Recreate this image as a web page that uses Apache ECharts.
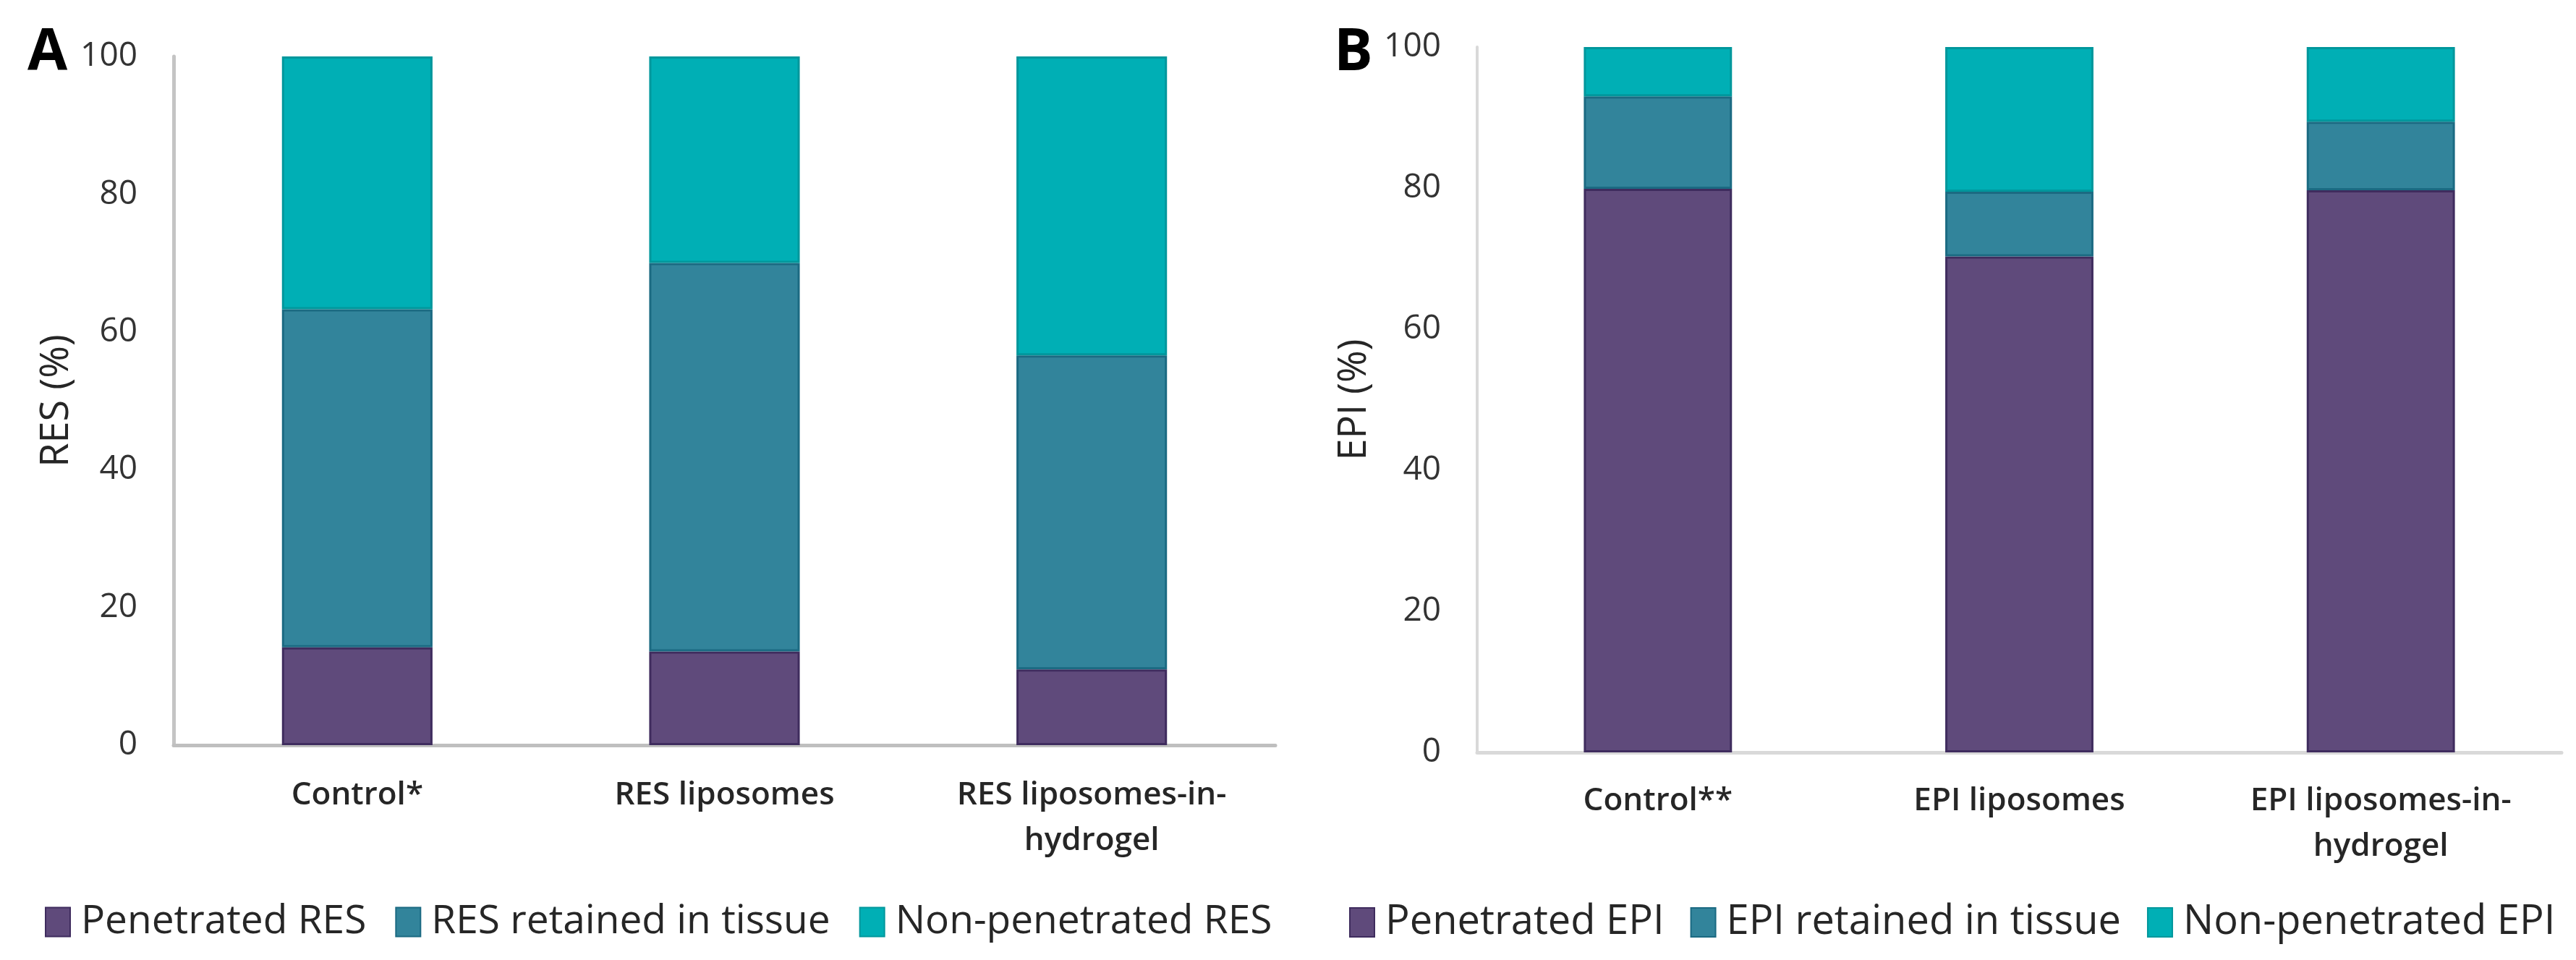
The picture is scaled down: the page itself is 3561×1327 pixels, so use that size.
<!DOCTYPE html>
<html>
<head>
<meta charset="utf-8">
<script src="https://cdn.jsdelivr.net/npm/echarts@6/dist/echarts.min.js"></script>
<style>
html,body{margin:0;padding:0;background:#fff;}
#chart{width:3561px;height:1327px;}
</style>
</head>
<body>
<div id="chart"></div>
<script>
// ---- Data ----
const categoriesA = ["Control*", "RES liposomes", "RES liposomes-in-hydrogel"];
const categoriesB = ["Control**", "EPI liposomes", "EPI liposomes-in-hydrogel"];
const seriesNamesA = ["Penetrated RES", "RES retained in tissue", "Non-penetrated RES"];
const seriesNamesB = ["Penetrated EPI", "EPI retained in tissue", "Non-penetrated EPI"];
const penetratedRES = [14.2, 13.6, 11.0];
const retainedRES = [49.1, 56.4, 45.6];
const nonPenetratedRES = [36.7, 30.0, 43.4];
const penetratedEPI = [79.9, 70.3, 79.7];
const retainedEPI = [13.1, 9.2, 9.7];
const nonPenetratedEPI = [7.0, 20.5, 10.6];
const yTicks = [0, 20, 40, 60, 80, 100];

// ---- Styles ----
const FONT = "Open Sans";
const fills = ["#5f4a7b", "#32849b", "#00afb5"];
const borders = ["#3f2c5e", "#1b6a82", "#00979c"];

function wrapLabel(v) { return v.replace("-in-", "-in-\n"); }

function yAxis(gridIndex, name, nameGap, lineColor, lineWidth) {
  return {
    type: 'value', gridIndex, min: yTicks[0], max: yTicks[yTicks.length - 1], interval: 20,
    name, nameLocation: 'middle', nameGap, nameRotate: 90,
    nameTextStyle: { fontFamily: FONT, fontSize: 54, color: '#262626' },
    axisLine: { show: true, lineStyle: { color: lineColor, width: lineWidth } },
    axisTick: { show: false }, splitLine: { show: false },
    axisLabel: { fontFamily: FONT, fontSize: 46, color: '#333333', margin: 50 }
  };
}
function xAxis(gridIndex, data, margin, lineColor) {
  return {
    type: 'category', gridIndex, data,
    axisLine: { show: true, lineStyle: { color: lineColor, width: 5 } },
    axisTick: { show: false },
    axisLabel: { fontFamily: FONT, fontSize: 44, fontWeight: 600, color: '#262626', margin, lineHeight: 63, formatter: wrapLabel, interval: 0 }
  };
}
function bars(names, arrays, axisIndex, stack) {
  return arrays.map((d, i) => ({
    name: names[i], type: 'bar', stack, data: d,
    xAxisIndex: axisIndex, yAxisIndex: axisIndex, barWidth: '41%',
    itemStyle: { color: fills[i], borderColor: borders[i], borderWidth: 3 },
    emphasis: { disabled: true }
  }));
}

const chart = echarts.init(document.getElementById('chart'), null, { renderer: 'canvas' });
chart.setOption({
  animation: false,
  backgroundColor: '#ffffff',
  grid: [
    { left: 240, right: 1798, top: 78, bottom: 297 },
    { left: 2042, right: 20, top: 65, bottom: 287 }
  ],
  xAxis: [xAxis(0, categoriesA, 38, '#bfbfbf'), xAxis(1, categoriesB, 36, '#d9d9d9')],
  yAxis: [yAxis(0, 'RES (%)', 134, '#c4c4c4', 5), yAxis(1, 'EPI (%)', 142, '#d9d9d9', 4)],
  legend: [
    { data: seriesNamesA, left: 57, top: 1242, itemWidth: 34, itemHeight: 40, itemGap: 40, icon: 'rect',
      textStyle: { fontFamily: FONT, fontSize: 55, color: '#262626', padding: [0, 0, 0, 10] } },
    { data: seriesNamesB, left: 1860, top: 1242, itemWidth: 34, itemHeight: 40, itemGap: 36, icon: 'rect',
      textStyle: { fontFamily: FONT, fontSize: 56, color: '#262626', padding: [0, 0, 0, 10] } }
  ],
  graphic: [
    { type: 'text', left: 38, top: 34, style: { text: 'A', fontFamily: FONT, fontWeight: 'bold', fontSize: 80, fill: '#000' } },
    { type: 'text', left: 1844, top: 34, style: { text: 'B', fontFamily: FONT, fontWeight: 'bold', fontSize: 80, fill: '#000' } }
  ],
  series: [
    ...bars(seriesNamesA, [penetratedRES, retainedRES, nonPenetratedRES], 0, 'A'),
    ...bars(seriesNamesB, [penetratedEPI, retainedEPI, nonPenetratedEPI], 1, 'B')
  ]
});
</script>
</body>
</html>
